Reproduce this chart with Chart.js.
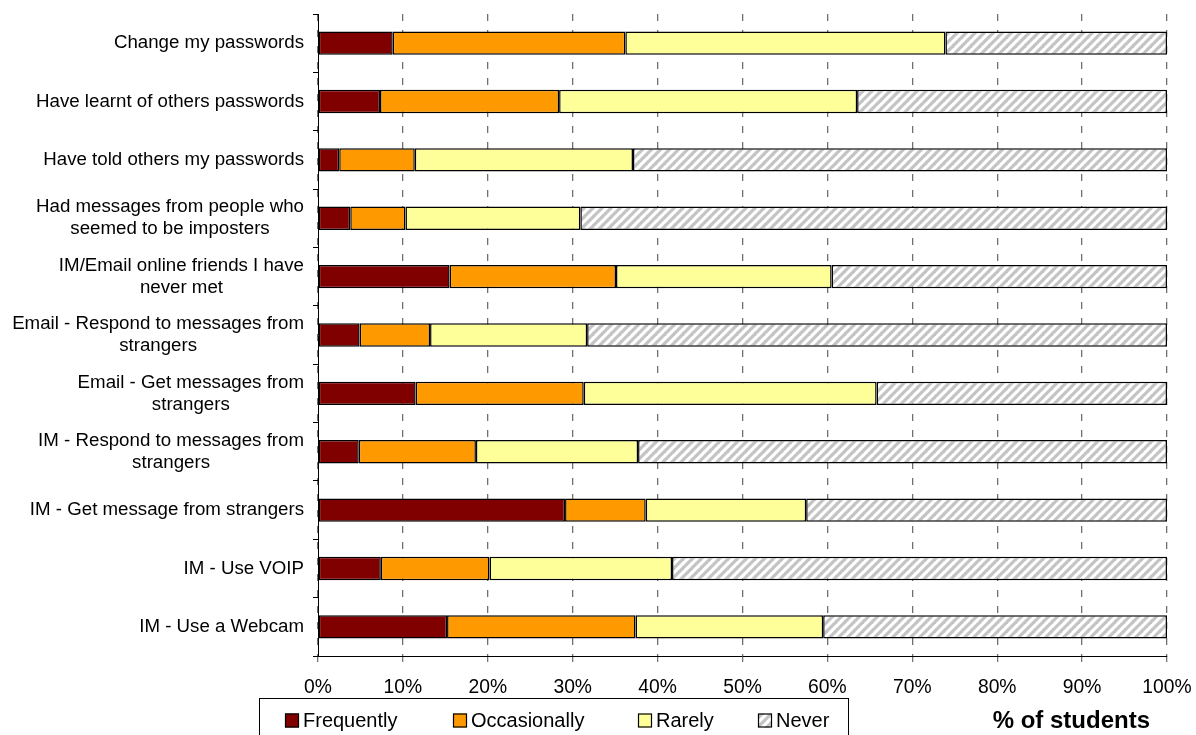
<!DOCTYPE html>
<html>
<head>
<meta charset="utf-8">
<title>Online safety behaviours</title>
<script src="https://cdn.jsdelivr.net/npm/chart.js@4/dist/chart.umd.min.js"></script>
<style>
  html, body { margin: 0; padding: 0; background: #ffffff; }
  #wrap { width: 1196px; height: 735px; position: relative; }
</style>
</head>
<body>
<div id="wrap"><canvas id="chart" width="1196" height="735"></canvas></div>
<script>
// Survey items, top to bottom
const categories = [
  ['Change my passwords'],
  ['Have learnt of others passwords'],
  ['Have told others my passwords'],
  ['Had messages from people who', 'seemed to be imposters'],
  ['IM/Email online friends I have', 'never met'],
  ['Email - Respond to messages from', 'strangers'],
  ['Email - Get messages from', 'strangers'],
  ['IM - Respond to messages from', 'strangers'],
  ['IM - Get message from strangers'],
  ['IM - Use VOIP'],
  ['IM - Use a Webcam']
];

// Share of students (%) per response
const frequently   = [8.8, 7.3, 2.5, 3.8, 15.5, 4.9, 11.5, 4.8, 29.1, 7.4, 15.2];
const occasionally = [27.4, 21.1, 8.9, 6.5, 19.6, 8.3, 19.8, 13.8, 9.5, 12.8, 22.2];
const rarely       = [37.7, 35.1, 25.7, 20.6, 25.4, 18.5, 34.5, 19.1, 18.9, 21.5, 22.1];
const never        = [26.1, 36.5, 62.9, 69.1, 39.5, 68.3, 34.2, 62.3, 42.5, 58.3, 40.5];

const seriesNames = ['Frequently', 'Occasionally', 'Rarely', 'Never'];
const xTicks = [0, 10, 20, 30, 40, 50, 60, 70, 80, 90, 100];
const xTitle = '% of students';

const FONT = '"Liberation Sans", Arial, sans-serif';

// Diagonal hatch fill for the "Never" segments
function makeHatch() {
  const s = 9;
  const c = document.createElement('canvas');
  c.width = s; c.height = s;
  const g = c.getContext('2d');
  g.fillStyle = '#ffffff';
  g.fillRect(0, 0, s, s);
  g.strokeStyle = '#c4c4c4';
  g.lineWidth = 3.2;
  g.lineCap = 'square';
  for (const k of [-s, 0, s]) {
    g.beginPath();
    g.moveTo(k, s);
    g.lineTo(k + s, 0);
    g.stroke();
  }
  return g.createPattern(c, 'repeat');
}
const hatch = makeHatch();

const fills = ['#800000', '#ff9900', '#ffff99', hatch];
const values = [frequently, occasionally, rarely, never];

const datasets = seriesNames.map((name, i) => ({
  label: name,
  data: values[i],
  backgroundColor: fills[i],
  borderColor: '#000000',
  borderWidth: 1.5,
  borderSkipped: false,
  barPercentage: 0.4,
  categoryPercentage: 1.0
}));

// Category labels: block right-aligned against the axis, lines centred within it
const categoryLabels = {
  id: 'categoryLabels',
  afterDraw(chart) {
    const ctx = chart.ctx;
    const yScale = chart.scales.y;
    const right = 304;
    const lineH = 22;
    ctx.save();
    ctx.font = '18.7px ' + FONT;
    ctx.fillStyle = '#000000';
    ctx.textAlign = 'center';
    ctx.textBaseline = 'middle';
    categories.forEach((lines, i) => {
      const cy = yScale.getPixelForValue(i);
      const w = Math.max(...lines.map(l => ctx.measureText(l).width));
      const cx = right - w / 2;
      const top = cy - (lines.length - 1) * lineH / 2;
      lines.forEach((l, j) => ctx.fillText(l, cx, top + j * lineH));
    });
    ctx.restore();
  }
};

// Boxed legend at the foot of the chart plus the axis title to its right
const footer = {
  id: 'footer',
  afterDraw(chart) {
    const ctx = chart.ctx;
    ctx.save();
    ctx.strokeStyle = '#000000';
    ctx.lineWidth = 1;
    ctx.strokeRect(259.5, 698.5, 589, 60);

    const markerX = [285, 453, 638, 758];
    const cy = 720.5;
    ctx.font = '20px ' + FONT;
    ctx.textBaseline = 'middle';
    ctx.textAlign = 'left';
    chart.data.datasets.forEach((ds, i) => {
      const x = markerX[i];
      ctx.fillStyle = ds.backgroundColor;
      ctx.fillRect(x, cy - 7, 14, 14);
      ctx.strokeStyle = '#000000';
      ctx.lineWidth = 1.2;
      ctx.strokeRect(x + 0.5, cy - 6.5, 13, 13);
      ctx.fillStyle = '#000000';
      ctx.fillText(ds.label, x + 18, cy + 1);
    });

    ctx.font = 'bold 24px ' + FONT;
    ctx.textAlign = 'right';
    ctx.fillText(xTitle, 1150, cy + 1);
    ctx.restore();
  }
};

new Chart(document.getElementById('chart'), {
  type: 'bar',
  data: { labels: categories.map(l => l.join(' ')), datasets },
  plugins: [categoryLabels, footer],
  options: {
    indexAxis: 'y',
    responsive: false,
    animation: false,
    events: [],
    layout: { padding: { left: 0, right: 29, top: 14, bottom: 0 } },
    plugins: {
      legend: { display: false },
      tooltip: { enabled: false },
      title: { display: false }
    },
    scales: {
      x: {
        stacked: true,
        min: 0,
        max: 100,
        afterFit(scale) {
          scale.height = 79;
          scale.paddingLeft = 0;
          scale.paddingRight = 0;
        },
        afterBuildTicks(scale) { scale.ticks = xTicks.map(v => ({ value: v })); },
        ticks: {
          padding: 14,
          color: '#000000',
          font: { family: FONT, size: 19.3 },
          callback: v => v + '%'
        },
        grid: {
          color: '#707070',
          lineWidth: 1.3,
          drawTicks: true,
          tickLength: 6,
          tickColor: '#777777'
        },
        border: { display: true, color: '#000000', width: 1, dash: [7, 9] }
      },
      y: {
        stacked: true,
        afterFit(scale) { scale.width = 318; },
        ticks: { display: false },
        grid: {
          offset: true,
          drawOnChartArea: false,
          drawTicks: true,
          tickLength: 5,
          color: '#000000',
          tickColor: '#000000'
        },
        border: { display: true, color: '#000000', width: 1 }
      }
    }
  }
});
</script>
</body>
</html>
